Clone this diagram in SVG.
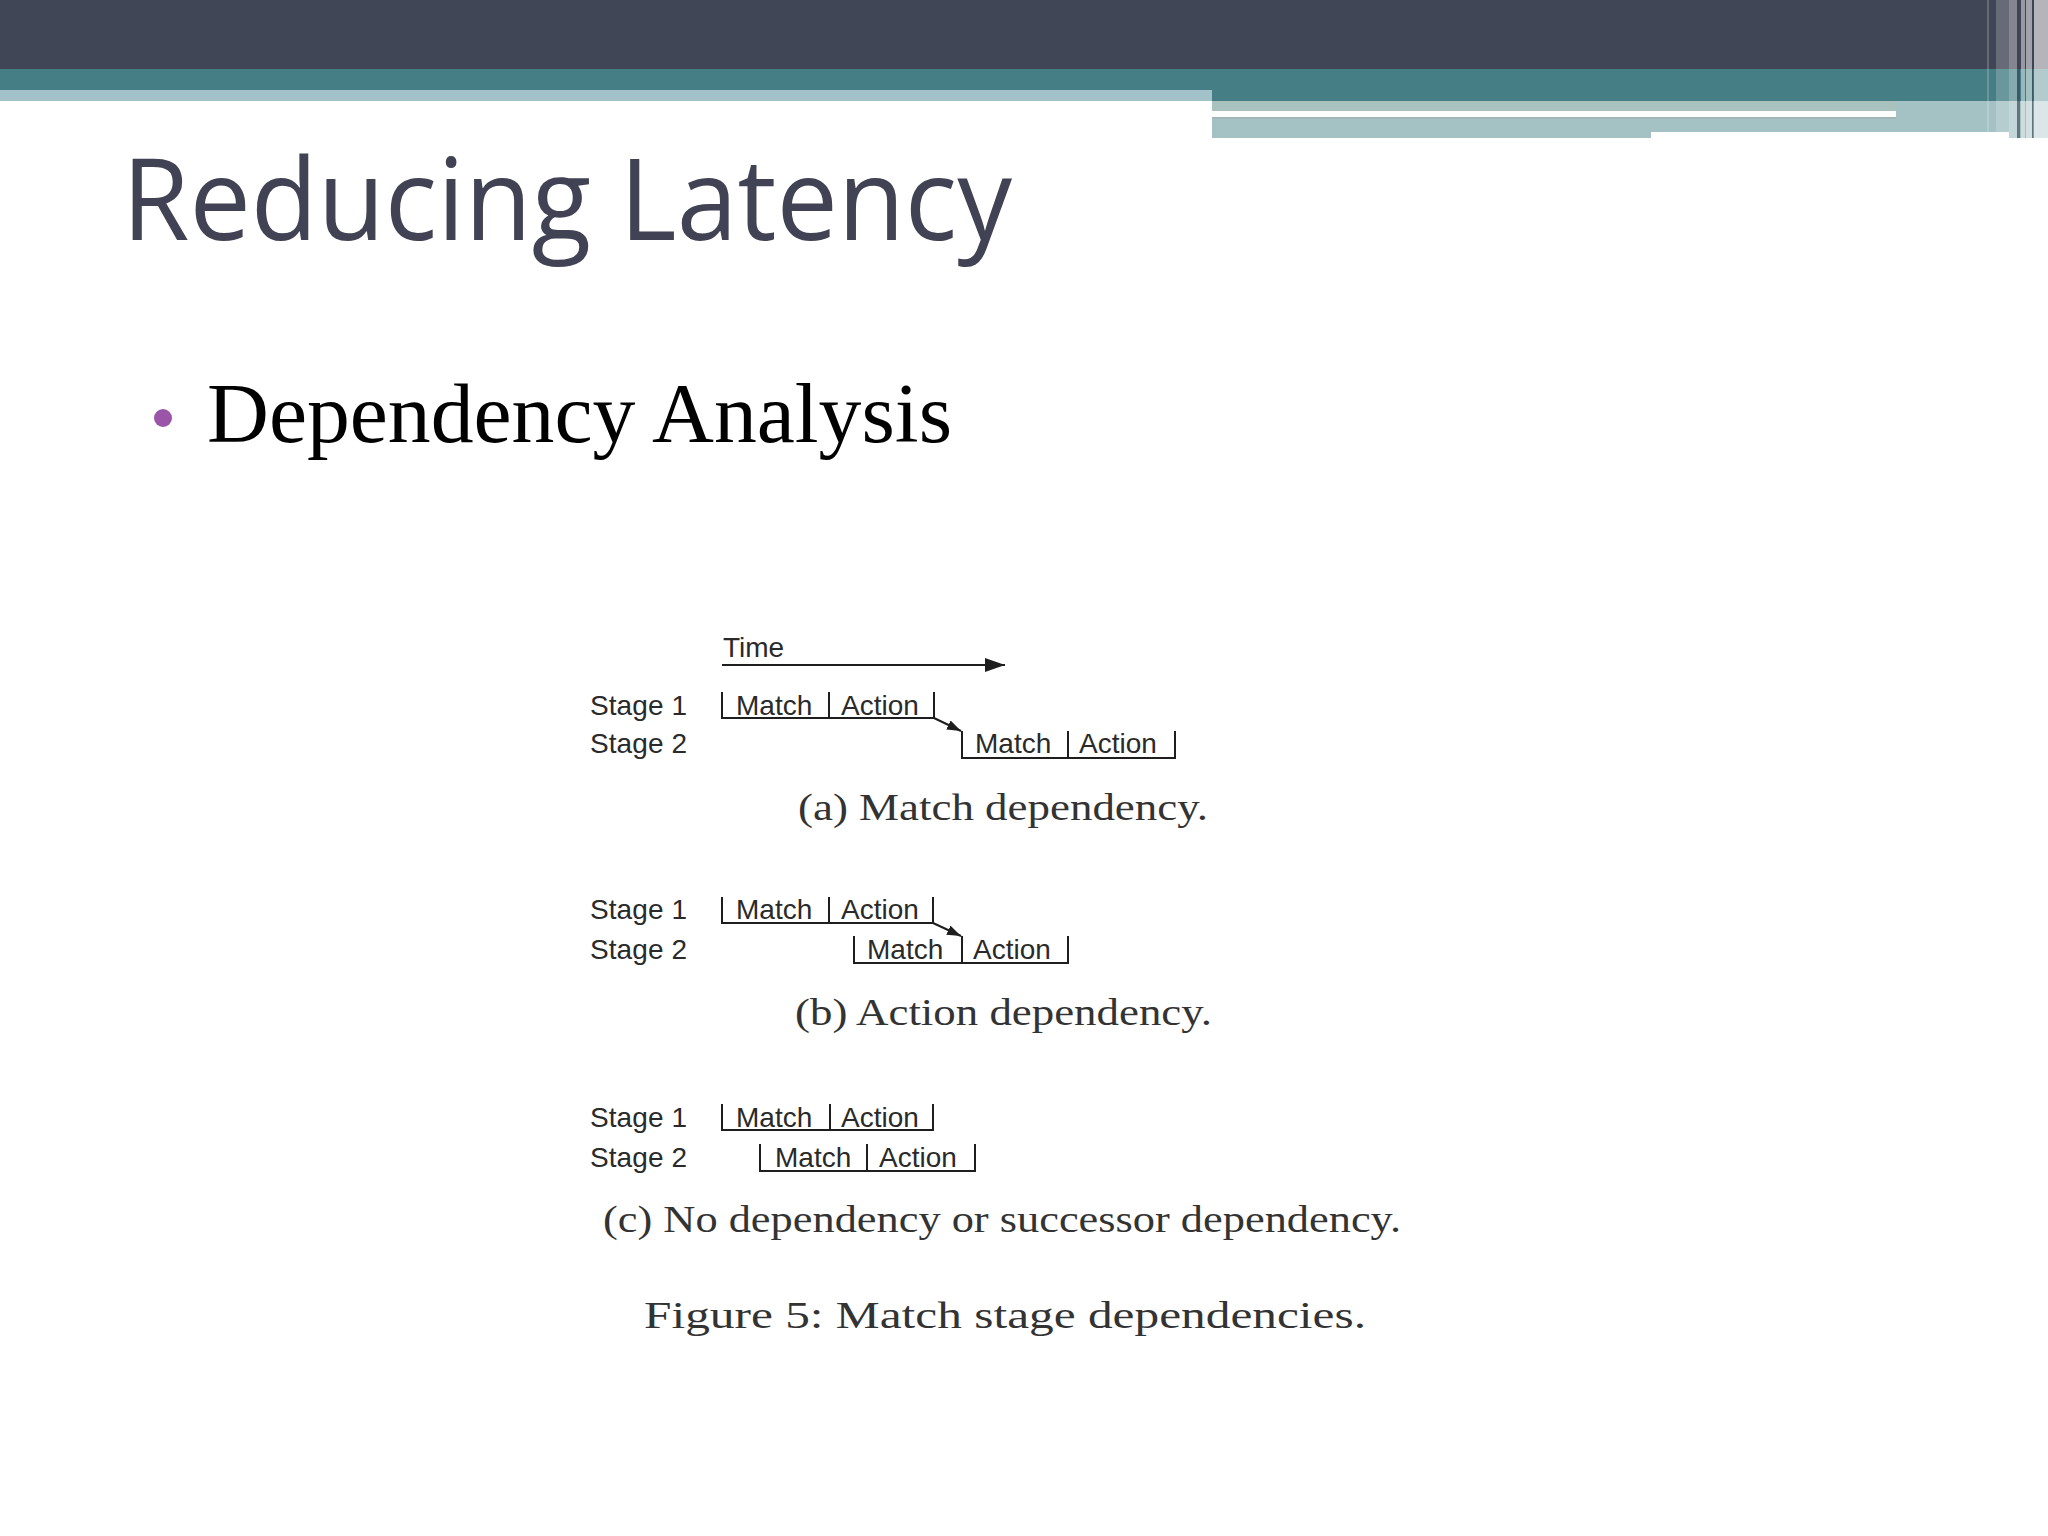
<svg xmlns="http://www.w3.org/2000/svg" width="2048" height="1536" viewBox="0 0 2048 1536">
<style>
.lbl{font-family:"Liberation Sans",Arial,sans-serif;font-size:28px;fill:#2a2a2a}
.box{fill:none;stroke:#1e1e1e;stroke-width:2}
.cap{font-family:"Liberation Serif","Times New Roman",serif;font-size:37px;fill:#333333}
.conn{stroke:#1e1e1e;stroke-width:2;fill:none}
</style>
<defs>
<marker id="arrowBig" markerUnits="userSpaceOnUse" markerWidth="20" markerHeight="14" refX="20" refY="7" orient="auto">
<path d="M0,0 L20,7 L0,14 z" fill="#1e1e1e"/>
</marker>
<marker id="arrowSmall" markerUnits="userSpaceOnUse" markerWidth="14" markerHeight="10" refX="14" refY="5" orient="auto">
<path d="M0,0 L14,5 L0,10 z" fill="#1e1e1e"/>
</marker>
</defs>
<rect width="2048" height="1536" fill="#ffffff"/>
<g id="header">
<rect x="0" y="0" width="2048" height="69" fill="#414656"/>
<rect x="0" y="69" width="2048" height="32" fill="#457e84"/>
<rect x="0" y="90" width="1212" height="11" fill="#a3c1c8"/>
<rect x="1212" y="101" width="836" height="37" fill="#a4c1c4"/>
<rect x="1212" y="101" width="684" height="10" fill="#a9c2be"/>
<rect x="1212" y="111" width="684" height="6" fill="#fcfdfd"/>
<rect x="1212" y="117" width="684" height="1.5" fill="#9fb3b3"/>
<rect x="1651" y="132" width="358" height="6" fill="#ffffff"/>
<rect x="1987" y="0" width="2" height="132" fill="#ffffff" opacity="0.2"/>
<rect x="1996" y="0" width="13" height="132" fill="#ffffff" opacity="0.2"/>
<rect x="2009" y="0" width="8" height="138" fill="#ffffff" opacity="0.35"/>
<rect x="2017" y="0" width="3" height="138" fill="#3c4050" opacity="0.6"/>
<rect x="2021" y="0" width="4" height="138" fill="#ffffff" opacity="0.45"/>
<rect x="2026" y="0" width="6" height="138" fill="#ffffff" opacity="0.5"/>
<rect x="2032" y="0" width="1.5" height="138" fill="#3c4050" opacity="0.6"/>
<rect x="2034" y="0" width="14" height="138" fill="#ffffff" opacity="0.6"/>
</g>
<g id="title">
<text x="122" y="240" font-family="'Open Sans','Noto Sans',sans-serif" font-size="113" fill="#414355" textLength="890" lengthAdjust="spacingAndGlyphs">Reducing Latency</text>
</g>
<g id="bullet">
<circle cx="163" cy="418" r="9" fill="#9b55a8"/>
<text x="207" y="442" font-family="'Liberation Serif','Times New Roman',serif" font-size="84" fill="#000000" textLength="745" lengthAdjust="spacingAndGlyphs">Dependency Analysis</text>
</g>
<g id="figure">
<g id="time-axis">
<text class="lbl" x="723" y="657">Time</text>
</g>
<g id="panel-a">
<text class="lbl" x="590" y="715" textLength="97">Stage 1</text>
<text class="lbl" x="590" y="753" textLength="97">Stage 2</text>
<g id="a-s1">
<path class="box" d="M722,692 V718 H934 V692 M829,692 V718"/>
<text class="lbl" x="736" y="715">Match</text>
<text class="lbl" x="841" y="715">Action</text>
</g>
<g id="a-s2">
<path class="box" d="M962,731 V758 H1175 V731 M1068,731 V758"/>
<text class="lbl" x="975" y="753">Match</text>
<text class="lbl" x="1079" y="753">Action</text>
</g>
<text class="cap" x="798" y="820" textLength="410" lengthAdjust="spacingAndGlyphs">(a) Match dependency.</text>
</g>
<g id="panel-b">
<text class="lbl" x="590" y="919" textLength="97">Stage 1</text>
<text class="lbl" x="590" y="959" textLength="97">Stage 2</text>
<g id="b-s1">
<path class="box" d="M722,897 V923 H933 V897 M829,897 V923"/>
<text class="lbl" x="736" y="919">Match</text>
<text class="lbl" x="841" y="919">Action</text>
</g>
<g id="b-s2">
<path class="box" d="M854,936 V963 H1068 V936 M962,936 V963"/>
<text class="lbl" x="867" y="959">Match</text>
<text class="lbl" x="973" y="959">Action</text>
</g>
<text class="cap" x="795" y="1025" textLength="417" lengthAdjust="spacingAndGlyphs">(b) Action dependency.</text>
</g>
<g id="panel-c">
<text class="lbl" x="590" y="1127" textLength="97">Stage 1</text>
<text class="lbl" x="590" y="1167" textLength="97">Stage 2</text>
<g id="c-s1">
<path class="box" d="M722,1104 V1130 H933 V1104 M830,1104 V1130"/>
<text class="lbl" x="736" y="1127">Match</text>
<text class="lbl" x="841" y="1127">Action</text>
</g>
<g id="c-s2">
<path class="box" d="M760,1144 V1171 H975 V1144 M867,1144 V1171"/>
<text class="lbl" x="775" y="1167">Match</text>
<text class="lbl" x="879" y="1167">Action</text>
</g>
<text class="cap" x="603" y="1232" textLength="798" lengthAdjust="spacingAndGlyphs">(c) No dependency or successor dependency.</text>
</g>
<text class="cap" x="644" y="1328" font-size="40" textLength="722" lengthAdjust="spacingAndGlyphs">Figure 5: Match stage dependencies.</text>
</g>
<g id="connectors">
<line class="conn" x1="722" y1="665" x2="1005" y2="665" marker-end="url(#arrowBig)"/>
<line class="conn" x1="934" y1="718" x2="961" y2="731" marker-end="url(#arrowSmall)"/>
<line class="conn" x1="933" y1="923" x2="961" y2="936" marker-end="url(#arrowSmall)"/>
</g>
</svg>
